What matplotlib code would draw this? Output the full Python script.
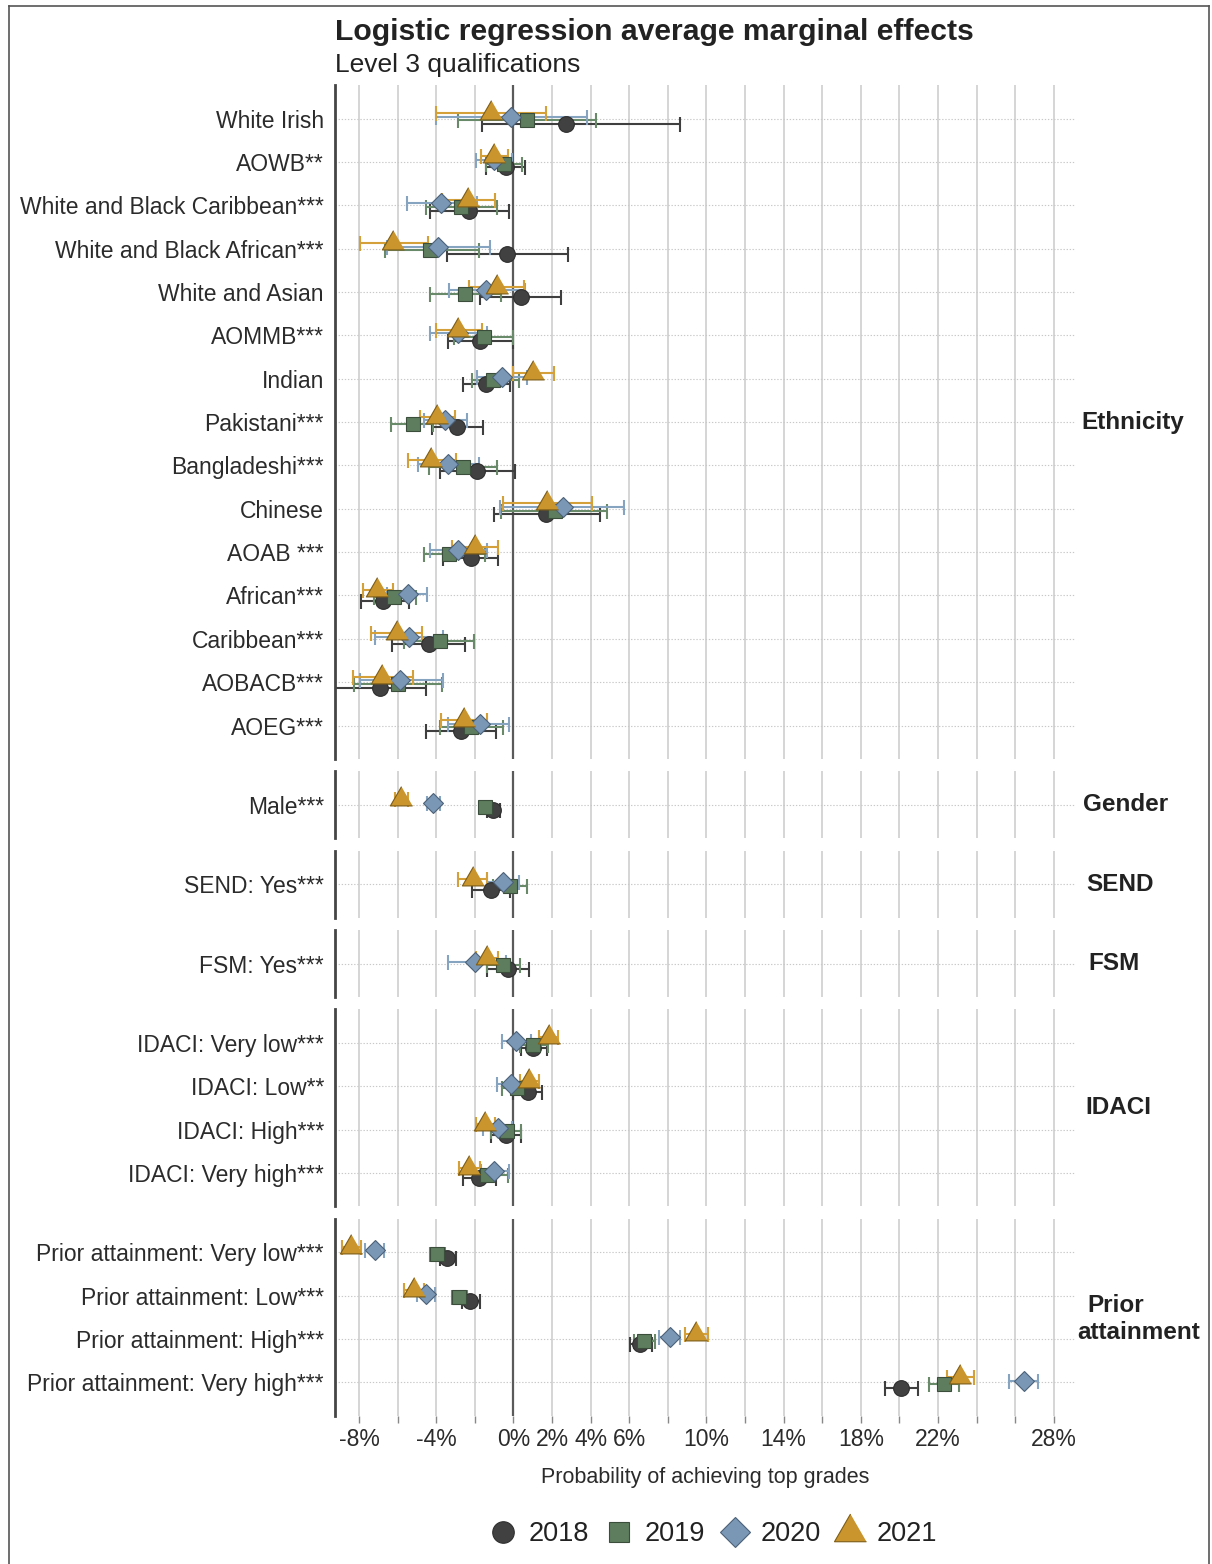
import matplotlib.pyplot as plt
from matplotlib.lines import Line2D
import numpy as np

plt.rcParams['font.family'] = ['Liberation Sans', 'DejaVu Sans']

# rows, top to bottom, and the facet each block of rows belongs to
labels = [
    'White Irish', 'AOWB**', 'White and Black Caribbean***', 'White and Black African***',
    'White and Asian', 'AOMMB***', 'Indian', 'Pakistani***', 'Bangladeshi***', 'Chinese',
    'AOAB ***', 'African***', 'Caribbean***', 'AOBACB***', 'AOEG***',
    'Male***',
    'SEND: Yes***',
    'FSM: Yes***',
    'IDACI: Very low***', 'IDACI: Low**', 'IDACI: High***', 'IDACI: Very high***',
    'Prior attainment: Very low***', 'Prior attainment: Low***',
    'Prior attainment: High***', 'Prior attainment: Very high***',
]
group_names = ['Ethnicity', 'Gender', 'SEND', 'FSM', 'IDACI', 'Prior\nattainment']
group_sizes = [15, 1, 1, 1, 4, 4]

years = ['2018', '2019', '2020', '2021']

# average marginal effects (%) with lower / upper confidence limits
est_2018 = [2.73, -0.40, -2.31, -0.35, 0.38, -1.73, -1.45, -2.94, -1.87, 1.68, -2.21, -6.74, -4.40, -6.91, -2.73,
            -1.04, -1.17, -0.31, 1.02, 0.76, -0.40, -1.81, -3.42, -2.25, 6.56, 20.07]
lo_2018 = [-1.64, -1.43, -4.35, -3.42, -1.76, -3.37, -2.64, -4.23, -3.83, -1.00, -3.66, -7.91, -6.30, -9.60, -4.53,
           -1.38, -2.16, -1.38, 0.40, 0.00, -1.17, -2.63, -3.83, -2.68, 6.04, 19.26]
hi_2018 = [8.64, 0.60, -0.22, 2.80, 2.45, -0.03, -0.17, -1.59, 0.10, 4.46, -0.78, -5.44, -2.50, -4.53, -0.92,
           -0.69, -0.17, 0.78, 1.75, 1.50, 0.38, -0.92, -2.97, -1.76, 7.17, 20.98]

est_2019 = [0.69, -0.48, -2.71, -4.32, -2.50, -1.52, -1.04, -5.22, -2.63, 2.16, -3.32, -6.18, -3.83, -5.96, -2.21,
            -1.47, -0.17, -0.52, 1.00, 0.17, -0.35, -1.38, -3.97, -2.80, 6.77, 22.33]
lo_2019 = [-2.88, -1.42, -4.54, -6.65, -4.32, -3.10, -2.16, -6.34, -4.39, -0.66, -4.63, -7.25, -5.66, -8.26, -3.83,
           -1.70, -1.04, -1.38, 0.35, -0.57, -1.17, -2.07, -4.35, -3.20, 6.25, 21.54]
hi_2019 = [4.27, 0.45, -0.83, -1.81, -0.66, -0.03, 0.26, -4.15, -0.83, 4.87, -1.47, -5.04, -2.04, -3.71, -0.55,
           -1.20, 0.69, 0.35, 1.81, 0.86, 0.38, -0.31, -3.54, -2.42, 7.34, 23.09]

est_2020 = [-0.12, -1.00, -3.77, -3.89, -1.42, -2.85, -0.60, -3.54, -3.37, 2.59, -2.90, -5.49, -5.39, -5.87, -1.73,
            -4.15, -0.55, -1.99, 0.14, -0.14, -0.78, -1.00, -7.20, -4.52, 8.12, 26.46]
lo_2020 = [-4.04, -1.95, -5.53, -6.56, -3.32, -4.35, -1.90, -4.66, -4.97, -0.69, -4.32, -6.56, -7.17, -7.98, -3.37,
           -4.49, -1.38, -3.37, -0.57, -0.86, -1.59, -1.69, -7.69, -5.01, 7.56, 25.70]
hi_2020 = [3.82, -0.10, -1.90, -1.24, 0.60, -1.38, 0.69, -2.42, -1.81, 5.73, -1.38, -4.49, -3.63, -3.66, -0.21,
           -3.80, 0.29, -0.38, 0.90, 0.60, -0.09, -0.21, -6.70, -4.06, 8.64, 27.20]

est_2021 = [-1.17, -1.00, -2.37, -6.22, -0.86, -2.85, 1.00, -3.94, -4.27, 1.76, -1.99, -7.05, -6.04, -6.82, -2.59,
            -5.84, -2.11, -1.38, 1.85, 0.81, -1.47, -2.28, -8.43, -5.18, 9.46, 23.15]
lo_2021 = [-4.00, -1.68, -3.71, -7.98, -2.30, -4.00, -0.03, -4.84, -5.49, -0.55, -3.20, -7.82, -7.37, -8.32, -3.77,
           -6.13, -2.85, -1.93, 1.30, 0.35, -1.93, -2.80, -8.89, -5.66, 8.89, 22.45]
hi_2021 = [1.70, -0.26, -0.98, -4.42, 0.52, -1.64, 2.10, -3.02, -2.97, 4.09, -0.78, -6.25, -4.72, -5.22, -1.38,
           -5.49, -1.38, -0.78, 2.33, 1.30, -0.95, -1.73, -7.91, -4.66, 10.10, 23.87]

xtick_pos = list(range(-8, 30, 2))
xtick_labels = ['-8%', '', '-4%', '', '0%', '2%', '4%', '6%', '', '10%', '', '14%', '',
                '18%', '', '22%', '', '', '28%']

series = {
    '2018': (est_2018, lo_2018, hi_2018),
    '2019': (est_2019, lo_2019, hi_2019),
    '2020': (est_2020, lo_2020, hi_2020),
    '2021': (est_2021, lo_2021, hi_2021),
}

tri = [(0, 1.155), (-1, -0.577), (1, -0.577)]
style = {
    '2018': dict(marker='o', ms=11.3, fc='#414141', ec='#2e2e2e', bar='#3f3f3f', off=0.125),
    '2019': dict(marker='s', ms=10.2, fc='#5d7d5e', ec='#3b4d3b', bar='#688a69', off=0.042),
    '2020': dict(marker='D', ms=9.8, fc='#7a98b6', ec='#4c6178', bar='#86a3c0', off=-0.042),
    '2021': dict(marker=tri, ms=18.5, fc='#c9952c', ec='#7d5c16', bar='#d4a03a', off=-0.125),
}

W, H = 1212, 1564
fig = plt.figure(figsize=(W / 100, H / 100), dpi=100)


def rect(left, top, width, height):
    return [left / W, 1 - (top + height) / H, width / W, height / H]


row_px = 43.36
pad = 0.773
gap = 12.3
left_px, width_px = 335, 740
top = 85.0
start = 0
for gi, (gname, n) in enumerate(zip(group_names, group_sizes)):
    h = (n - 1 + 2 * pad) * row_px
    ax = fig.add_axes(rect(left_px, top, width_px, h))
    rows = np.arange(n)
    sl = slice(start, start + n)

    ax.set_xlim(-9.25, 29.1)
    ax.set_ylim(n - 1 + pad, -pad)
    for v in xtick_pos:
        ax.axvline(v, color='#d2d2d2', lw=1.3, zorder=0)
    ax.axvline(0, color='#5a5a5a', lw=1.6, zorder=1)
    for r in rows:
        ax.axhline(r, color='#c8c8c8', lw=0.8, ls=(0, (1.2, 1.6)), zorder=0)

    for y in years:
        est, lo, hi = (np.array(a[sl]) for a in series[y])
        st = style[y]
        ax.errorbar(est, rows + st['off'], xerr=[est - lo, hi - est], fmt='none',
                    ecolor=st['bar'], elinewidth=1.5, capsize=5.4, capthick=1.5, zorder=2)
    for k, y in enumerate(years):
        est = np.array(series[y][0][sl])
        st = style[y]
        ax.plot(est, rows + st['off'], ls='none', marker=st['marker'], ms=st['ms'],
                mfc=st['fc'], mec=st['ec'], mew=0.8, zorder=3 + k)

    for s in ['top', 'right', 'bottom']:
        ax.spines[s].set_visible(False)
    ax.spines['left'].set_color('#454545')
    ax.spines['left'].set_linewidth(2.0)
    ax.set_yticks(rows)
    ax.set_yticklabels(labels[sl], fontsize=16.5, color='#2b2b2b')
    ax.tick_params(axis='y', length=0, pad=8)
    ax.set_xticks(xtick_pos)
    if gi == len(group_names) - 1:
        ax.set_xticklabels(xtick_labels, fontsize=16.5, color='#2b2b2b')
        ax.tick_params(axis='x', length=5, width=1, color='#888888', pad=4)
    else:
        ax.tick_params(axis='x', length=0, labelbottom=False)

    # facet label on the right
    yc = top + h / 2
    if '\n' in gname:
        a, b = gname.split('\n')
        fig.text(1087 / W, 1 - (yc - 12) / H, a, fontsize=17.5, weight='bold',
                 color='#222222', ha='left', va='center')
        fig.text(1077 / W, 1 - (yc + 15) / H, b, fontsize=17.5, weight='bold',
                 color='#222222', ha='left', va='center')
    else:
        xl = {'Ethnicity': 1081, 'Gender': 1083, 'SEND': 1086, 'FSM': 1088, 'IDACI': 1085}[gname]
        fig.text(xl / W, 1 - yc / H, gname, fontsize=17.5, weight='bold',
                 color='#222222', ha='left', va='center')

    top += h + gap
    start += n

fig.text(335 / W, 1 - 40 / H, 'Logistic regression average marginal effects',
         fontsize=21.7, weight='bold', color='#222222', ha='left', va='baseline')
fig.text(335 / W, 1 - 72 / H, 'Level 3 qualifications',
         fontsize=19, color='#222222', ha='left', va='baseline')
fig.text(705 / W, 1 - 1477 / H, 'Probability of achieving top grades',
         fontsize=15.5, color='#2b2b2b', ha='center', va='center')

# legend
leg_ms = {'2018': 15.5, '2019': 14.8, '2020': 14.8, '2021': 26.6}
handles = [Line2D([], [], ls='none', marker=style[y]['marker'], ms=leg_ms[y],
                  mfc=style[y]['fc'], mec=style[y]['ec'], mew=0.8) for y in years]
fig.legend(handles, years, ncol=4, loc='center', bbox_to_anchor=(711 / W, 1 - 1534 / H),
           frameon=False, fontsize=19.5, handletextpad=0.3, columnspacing=0.45,
           handlelength=1.3, labelcolor='#222222')

# outer frame
for xs, ys in [([9, 9], [6, H + 5]), ([9, 1209], [6, 6]), ([1209, 1209], [6, H + 5])]:
    fig.add_artist(Line2D([x / W for x in xs], [1 - y / H for y in ys],
                          transform=fig.transFigure, color='#555555', lw=1.2))

fig.savefig('out.png', dpi=100)
